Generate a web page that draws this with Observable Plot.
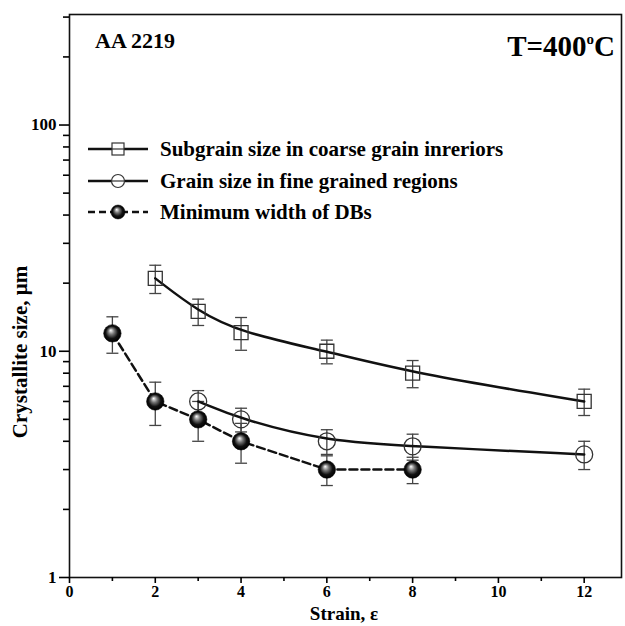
<!DOCTYPE html>
<html>
<head>
<meta charset="utf-8">
<script src="https://cdn.jsdelivr.net/npm/d3@7"></script>
<script src="https://cdn.jsdelivr.net/npm/@observablehq/plot@0.6"></script>
<style>
  html, body { margin: 0; padding: 0; background: #fff; }
  #chart svg { display: block; }
</style>
</head>
<body>
<div id="chart"></div>
<script>
// ---- data ----
const seriesNames = [
  "Subgrain size in coarse grain inreriors",
  "Grain size in fine grained regions",
  "Minimum width of DBs"
];
const strainSub = [2, 3, 4, 6, 8, 12];
const sizeSub   = [21, 15, 12.1, 10, 8, 6];
const errSub    = [3, 2, 2, 1.2, 1.1, 0.8];

const strainGrain = [3, 4, 6, 8, 12];
const sizeGrain   = [6, 5, 4, 3.8, 3.5];
const errGrain    = [0.7, 0.6, 0.5, 0.5, 0.5];

const strainDB = [1, 2, 3, 4, 6, 8];
const sizeDB   = [12, 6, 5, 4, 3, 3];
const errDB    = [2.2, 1.3, 1.0, 0.8, 0.45, 0.4];

const xMajorTicks = [0, 2, 4, 6, 8, 10, 12];
const xMinorTicks = [1, 3, 5, 7, 9, 11];
const yMajorTicks = [1, 10, 100];
const yMinorTicks = [2,3,4,5,6,7,8,9,20,30,40,50,60,70,80,90,200,300];

const titleLeft = "AA 2219";
const xLabel = "Strain, ε";
const yLabel = "Crystallite size, μm";

// ---- build tables ----
const mk = (xs, ys, es) => xs.map((x, i) => ({x, y: ys[i], lo: ys[i] - es[i], hi: ys[i] + es[i]}));
const sub = mk(strainSub, sizeSub, errSub);
const grain = mk(strainGrain, sizeGrain, errGrain);
const db = mk(strainDB, sizeDB, errDB);

const cap = {draw(ctx, size) { const r = Math.sqrt(size / Math.PI); ctx.moveTo(-r, 0); ctx.lineTo(r, 0); }};
const FONT = "Liberation Serif, Times New Roman, serif";

function errorMarks(data) {
  return [
    Plot.ruleX(data, {x: "x", y1: "lo", y2: "hi", stroke: "#444", strokeWidth: 1.3}),
    Plot.dot(data, {x: "x", y: "hi", symbol: cap, r: 6, stroke: "#444", strokeWidth: 1.3, fill: "none"}),
    Plot.dot(data, {x: "x", y: "lo", symbol: cap, r: 6, stroke: "#444", strokeWidth: 1.3, fill: "none"})
  ];
}

const plot = Plot.plot({
  width: 625,
  height: 626,
  marginLeft: 69,
  marginRight: 4,
  marginTop: 14,
  marginBottom: 49,
  style: {fontFamily: FONT, fontWeight: "bold", fontSize: "16px", color: "#000", background: "#fff"},
  x: {domain: [0, 12.87], label: null},
  y: {type: "log", domain: [1, 308], label: null},
  marks: [
    Plot.frame({stroke: "#111", strokeWidth: 1.6}),
    Plot.axisX({ticks: xMajorTicks, tickSize: 6, tickPadding: 2, tickFormat: d => String(d), strokeWidth: 1.6}),
    Plot.axisX({ticks: xMinorTicks, tickSize: 4, text: null, strokeWidth: 1.6}),
    Plot.axisY({ticks: yMajorTicks, tickSize: 10, tickPadding: 3, tickFormat: d => String(d), strokeWidth: 1.6, fontSize: 17}),
    Plot.axisY({ticks: yMinorTicks, tickSize: 6, text: null, strokeWidth: 1.6}),
    ...errorMarks(sub),
    ...errorMarks(grain),
    ...errorMarks(db),
    Plot.line(sub, {x: "x", y: "y", curve: "basis", stroke: "#111", strokeWidth: 2.5}),
    Plot.line(grain, {x: "x", y: "y", curve: "basis", stroke: "#111", strokeWidth: 2.5}),
    Plot.line(db, {x: "x", y: "y", stroke: "#111", strokeWidth: 2.5, strokeDasharray: "8,4"}),
    Plot.dot(sub, {x: "x", y: "y", symbol: "square", r: 7.9, stroke: "#333", strokeWidth: 1.3, fill: "none"}),
    Plot.dot(grain, {x: "x", y: "y", symbol: "circle", r: 8.5, stroke: "#333", strokeWidth: 1.3, fill: "none"}),
    Plot.dot(db, {x: "x", y: "y", symbol: "circle", r: 8.7, stroke: "#000", strokeWidth: 0.6, fill: "url(#ballGrad)"})
  ]
});

const svg = d3.select(plot);
const defs = svg.insert("defs", ":first-child");
const g = defs.append("radialGradient").attr("id", "ballGrad")
  .attr("cx", "50%").attr("cy", "50%").attr("r", "50%").attr("fx", "40%").attr("fy", "32%");
g.append("stop").attr("offset", "0%").attr("stop-color", "#ffffff");
g.append("stop").attr("offset", "35%").attr("stop-color", "#777");
g.append("stop").attr("offset", "70%").attr("stop-color", "#111");
g.append("stop").attr("offset", "100%").attr("stop-color", "#000");

const T = (x, y, txt, size, anchor = "start") =>
  svg.append("text").attr("x", x).attr("y", y).attr("text-anchor", anchor)
    .attr("font-family", FONT).attr("font-weight", "bold").attr("font-size", size).attr("fill", "#000").text(txt);

// titles
T(95, 48, titleLeft, 22);
const tt = svg.append("text").attr("x", 615).attr("y", 56).attr("text-anchor", "end")
  .attr("font-family", FONT).attr("font-weight", "bold").attr("font-size", 29).attr("fill", "#000");
tt.append("tspan").text("T=400");
tt.append("tspan").attr("dy", -12).attr("font-size", 15).text("o");
tt.append("tspan").attr("dy", 12).text("C");

// axis labels
T(344, 620, xLabel, 19, "middle");
svg.append("text").attr("transform", "translate(27,352) rotate(-90)").attr("text-anchor", "middle")
  .attr("font-family", FONT).attr("font-weight", "bold").attr("font-size", 21).attr("fill", "#000").text(yLabel);

// legend
const legY = [149, 181, 212];
const lg = svg.append("g");
legY.forEach((y, i) => {
  lg.append("line").attr("x1", 88).attr("x2", 148).attr("y1", y).attr("y2", y)
    .attr("stroke", "#111").attr("stroke-width", 2.5).attr("stroke-dasharray", i === 2 ? "7,4" : null);
  if (i === 0) {
    lg.append("rect").attr("x", 112).attr("y", y - 6).attr("width", 12).attr("height", 12)
      .attr("fill", "#fff").attr("stroke", "#333").attr("stroke-width", 1.2);
    lg.append("line").attr("x1", 112).attr("x2", 124).attr("y1", y).attr("y2", y).attr("stroke", "#333").attr("stroke-width", 1.2);
  }
  if (i === 1) {
    lg.append("circle").attr("cx", 118).attr("cy", y).attr("r", 6.5).attr("fill", "#fff").attr("stroke", "#333").attr("stroke-width", 1.2);
    lg.append("line").attr("x1", 111.5).attr("x2", 124.5).attr("y1", y).attr("y2", y).attr("stroke", "#333").attr("stroke-width", 1.2);
  }
  if (i === 2) lg.append("circle").attr("cx", 118).attr("cy", y).attr("r", 7).attr("fill", "url(#ballGrad)").attr("stroke", "#000").attr("stroke-width", 0.5);
  T(160, y + 7, seriesNames[i], 21);
});

document.getElementById("chart").appendChild(plot);
</script>
</body>
</html>
